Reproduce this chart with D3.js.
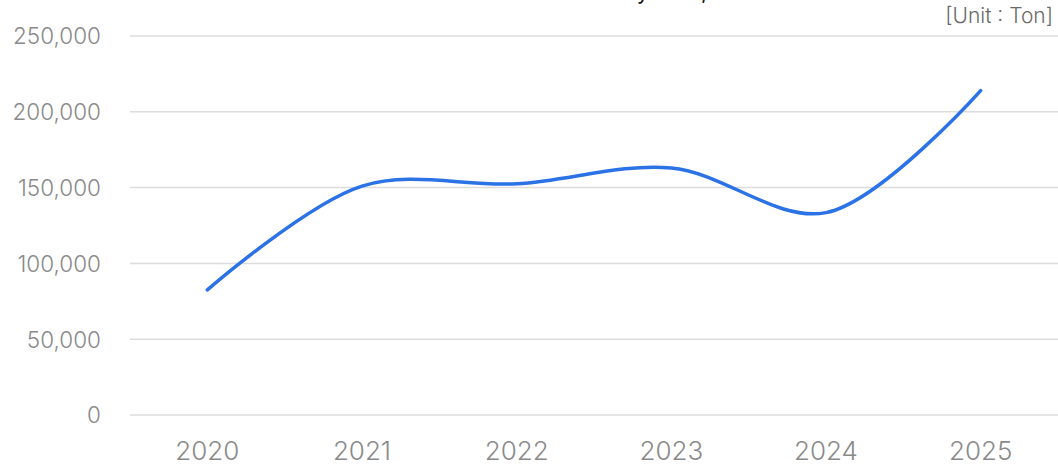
<!DOCTYPE html>
<html><head><meta charset="utf-8">
<script src="https://cdn.jsdelivr.net/npm/d3@7"></script>
<style>body{margin:0;background:#fff;}svg{display:block;} svg text{font-family:Inter,"Noto Sans",sans-serif;}</style>
</head><body>
<svg id="c" width="1058" height="466"></svg>
<script>
const categories = ["2020","2021","2022","2023","2024","2025"];
const values = [82500, 151000, 152500, 163000, 133500, 214000];
const yTicks = [0, 50000, 100000, 150000, 200000, 250000];
const titleText = "Production Volume by Year, 2020-2025";
const unitText = "[Unit : Ton]";

const svg = d3.select("#c");
const W = 1058, H = 466;
const m = {l:130, r:0, t:36, b:51};
const x = d3.scaleBand().domain(categories).range([m.l, W - m.r]).padding(0);
const y = d3.scaleLinear().domain([0, 250000]).range([H - m.b, m.t]);

// grid
svg.append("g").selectAll("line").data(yTicks).join("line")
  .attr("x1", m.l).attr("x2", W).attr("y1", d=>y(d)).attr("y2", d=>y(d))
  .attr("stroke", "#dcdcdc").attr("stroke-width", 1.5);

// y labels
const yAxis = d3.axisLeft(y).tickValues(yTicks).tickSize(0).tickPadding(0).tickFormat(d3.format(","));
const ya = svg.append("g").attr("transform", `translate(${101},0)`).call(yAxis).attr("font-family", null);
ya.select(".domain").remove();
ya.selectAll("text").attr("fill", "#8a8a8a").style("font-size", "22.5px").style("font-weight", 300).attr("dy", "0.35em");

// x labels
const xAxis = d3.axisBottom(x).tickSize(0).tickPadding(0);
const xa = svg.append("g").attr("transform", `translate(0,${H - 6})`).call(xAxis).attr("font-family", null);
xa.select(".domain").remove();
xa.selectAll("text").attr("fill", "#8a8a8a").style("font-size", "26px").style("font-weight", 300).attr("dy", "0");

// line
const line = d3.line().x((d,i)=>x(categories[i]) + x.bandwidth()/2).y(d=>y(d)).curve(d3.curveCatmullRom.alpha(0.5));
svg.append("path").datum(values).attr("d", line).attr("fill","none")
  .attr("stroke", "#2a72e5").attr("stroke-width", 3.5).attr("stroke-linecap","round");

// unit
svg.append("text").attr("x", 1053).attr("y", 23).attr("text-anchor","end")
  .attr("fill", "#6a6a6a").style("font-size", "21px").style("font-weight", 300).text(unitText);

// title (cut off at top, as in the reference)
const t = svg.append("text").attr("x", 0).attr("y", -1)
  .attr("fill", "#111").style("font-size", "22px").text(titleText);
const idx = titleText.indexOf("by") + 1;
const pre = t.node().getSubStringLength(0, idx);
const yw = t.node().getSubStringLength(idx, 1);
t.attr("x", 643 - pre - yw / 2);
</script>
</body></html>
